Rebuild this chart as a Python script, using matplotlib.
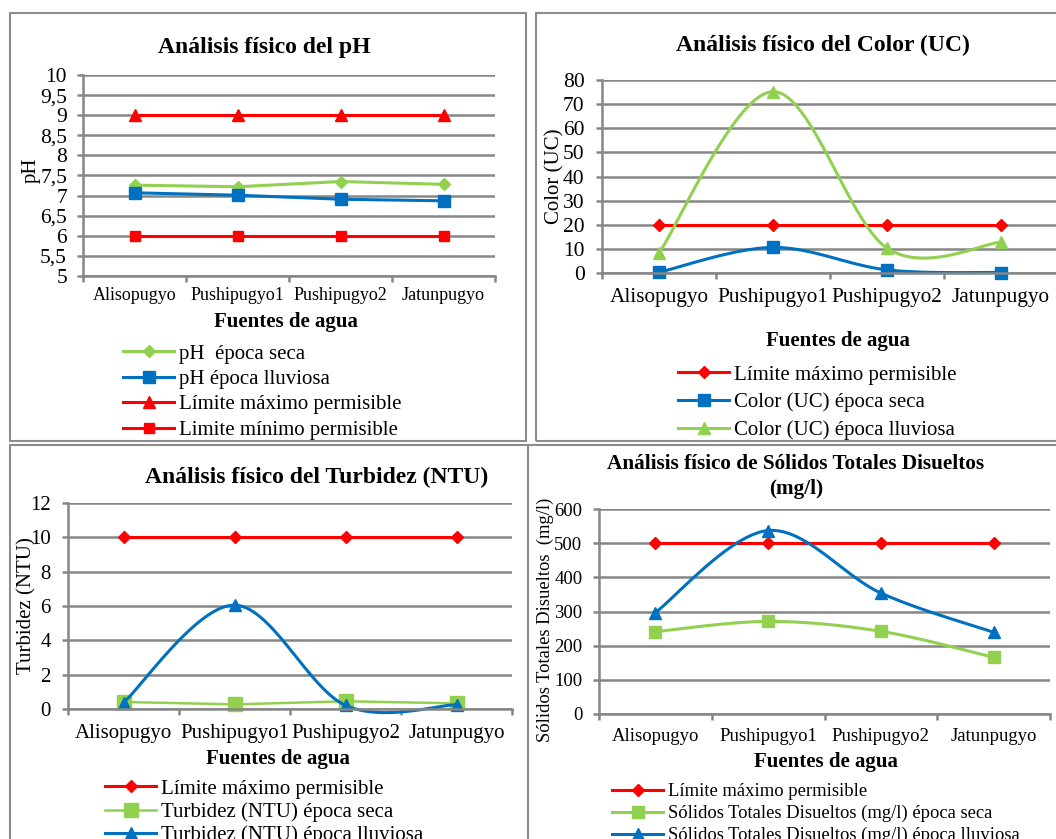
import numpy as np
import matplotlib
matplotlib.use('Agg')
import matplotlib.pyplot as plt
from matplotlib.patches import Rectangle

W, H = 1056, 839
plt.rcParams['font.family'] = ['Liberation Serif', 'DejaVu Serif']

# --- data ---
fuentes = ['Alisopugyo', 'Pushipugyo1', 'Pushipugyo2', 'Jatunpugyo']

ph_seca = [7.26, 7.22, 7.35, 7.28]
ph_lluviosa = [7.07, 7.01, 6.91, 6.87]
ph_max = [9, 9, 9, 9]
ph_min = [6, 6, 6, 6]

color_max = [20, 20, 20, 20]
color_seca = [0.3, 10.6, 1.3, 0.2]
color_lluviosa = [8.3, 75.2, 10.3, 12.8]

turb_max = [10, 10, 10, 10]
turb_seca = [0.41, 0.27, 0.45, 0.33]
turb_lluviosa = [0.37, 6.05, 0.21, 0.25]

std_max = [500, 500, 500, 500]
std_seca = [241, 271, 242, 166]
std_lluviosa = [297, 537, 354, 239]

RED = '#FF0000'
GREEN = '#92D050'
BLUE = '#0070C0'
GRID = '#868686'
N = 30

fig = plt.figure(figsize=(W / 100, H / 100), dpi=100)


def fx(x):
    return x / W


def fy(y):
    return 1 - y / H


def px_axes(x0, y0, x1, y1):
    return fig.add_axes([fx(x0), fy(y1), (x1 - x0) / W, (y1 - y0) / H])


def smooth(vals, n=N):
    # Excel-like smoothed line (Catmull-Rom bezier between the points)
    y = np.asarray(vals, float)
    x = np.arange(len(y), dtype=float)
    xs, ys = [x[0]], [y[0]]
    t = np.linspace(0, 1, n + 1)[1:]
    for i in range(len(y) - 1):
        a = max(i - 1, 0)
        b = min(i + 2, len(y) - 1)
        c1x = x[i] + (x[i + 1] - x[a]) / 6
        c1y = y[i] + (y[i + 1] - y[a]) / 6
        c2x = x[i + 1] - (x[b] - x[i]) / 6
        c2y = y[i + 1] - (y[b] - y[i]) / 6
        bx = (1 - t) ** 3 * x[i] + 3 * (1 - t) ** 2 * t * c1x + 3 * (1 - t) * t ** 2 * c2x + t ** 3 * x[i + 1]
        by = (1 - t) ** 3 * y[i] + 3 * (1 - t) ** 2 * t * c1y + 3 * (1 - t) * t ** 2 * c2y + t ** 3 * y[i + 1]
        xs.extend(bx)
        ys.extend(by)
    return np.array(xs), np.array(ys)


def line(ax, vals, color, marker, ms, label, lw=2.2, smooth_it=False):
    if smooth_it:
        xs, ys = smooth(vals)
        ax.plot(xs, ys, color=color, lw=lw, marker=marker, ms=ms, mec=color, mfc=color,
                markevery=list(range(0, len(xs), N)), label=label, clip_on=False)
    else:
        ax.plot(range(len(vals)), vals, color=color, lw=lw, marker=marker, ms=ms,
                mec=color, mfc=color, label=label, clip_on=False)


def style(ax, ymin, ymax, step, fs_y, fs_x, xpad, ypad, comma=False):
    ax.set_xlim(-0.5, 3.5)
    ax.set_ylim(ymin, ymax)
    ticks = np.arange(ymin, ymax + step / 2, step)
    ax.set_yticks(ticks)
    if comma:
        ax.set_yticklabels([('%g' % v).replace('.', ',') for v in ticks])
    ax.yaxis.grid(True, color=GRID, lw=1.8)
    ax.set_axisbelow(True)
    for s in ['top', 'right']:
        ax.spines[s].set_visible(False)
    for s in ['left', 'bottom']:
        ax.spines[s].set_color(GRID)
        ax.spines[s].set_linewidth(1.8)
    ax.set_xticks(range(4))
    ax.set_xticklabels(fuentes)
    ax.set_xticks(np.arange(-0.5, 4, 1), minor=True)
    ax.tick_params(axis='x', which='major', length=0, pad=xpad, labelsize=fs_x)
    ax.tick_params(axis='x', which='minor', length=4, width=1.8, color=GRID)
    ax.tick_params(axis='y', length=4, width=1.8, color=GRID, pad=ypad, labelsize=fs_y)
    ax.patch.set_alpha(0)


def legend(ax, x, y, fs, spacing, hl):
    ax.legend(loc='upper left', bbox_to_anchor=(fx(x), fy(y)), bbox_transform=fig.transFigure,
              frameon=False, fontsize=fs, borderpad=0, borderaxespad=0,
              handlelength=hl, handletextpad=0.25, labelspacing=spacing)


# panel borders
for (x0, y0, x1, y1) in [(10, 13, 526, 441), (536, 13, 1070, 441),
                         (10, 445, 528, 850), (528, 445, 1070, 850)]:
    fig.add_artist(Rectangle((fx(x0), fy(y1)), (x1 - x0) / W, (y1 - y0) / H,
                             transform=fig.transFigure, fill=False, ec='#8C8C8C', lw=1.5))

# --- pH ---
ax1 = px_axes(83, 75, 495, 276)
line(ax1, ph_seca, GREEN, 'D', 6, 'pH  época seca')
line(ax1, ph_lluviosa, BLUE, 's', 8.5, 'pH época lluviosa')
line(ax1, ph_max, RED, '^', 8.5, 'Límite máximo permisible')
line(ax1, ph_min, RED, 's', 7, 'Limite mínimo permisible')
style(ax1, 5, 10, 0.5, 15.5, 13, 8, 7.5, comma=True)
fig.text(fx(264), fy(48), 'Análisis físico del pH', ha='center', va='center',
         fontsize=17, fontweight='bold')
fig.text(fx(286), fy(322), 'Fuentes de agua', ha='center', va='center',
         fontsize=15, fontweight='bold')
fig.text(fx(31), fy(170), 'pH', ha='center', va='center', rotation=90, fontsize=15)
legend(ax1, 123, 344, 15, 0.28, 2.45)

# --- Color ---
ax2 = px_axes(602, 80, 1058, 273)
line(ax2, color_max, RED, 'D', 6, 'Límite máximo permisible')
line(ax2, color_seca, BLUE, 's', 8.5, 'Color (UC) época seca', smooth_it=True)
line(ax2, color_lluviosa, GREEN, '^', 8.5, 'Color (UC) época lluviosa', smooth_it=True)
style(ax2, 0, 80, 10, 15.5, 15.3, 11, 8.5)
fig.text(fx(823), fy(45), 'Análisis físico del Color (UC)', ha='center', va='center',
         fontsize=17, fontweight='bold')
fig.text(fx(838), fy(341), 'Fuentes de agua', ha='center', va='center',
         fontsize=15, fontweight='bold')
fig.text(fx(555), fy(176), 'Color (UC)', ha='center', va='center', rotation=90, fontsize=15)
legend(ax2, 678, 365, 15, 0.39, 2.45)

# --- Turbidez ---
ax3 = px_axes(68, 503, 512, 709)
line(ax3, turb_max, RED, 'D', 6, 'Límite máximo permisible')
line(ax3, turb_seca, GREEN, 's', 10, 'Turbidez (NTU) época seca', lw=1.8)
line(ax3, turb_lluviosa, BLUE, '^', 8.5, 'Turbidez (NTU) época lluviosa', smooth_it=True)
style(ax3, 0, 12, 2, 15, 15, 11, 8.5)
fig.text(fx(317), fy(477), 'Análisis físico del Turbidez (NTU)', ha='center', va='center',
         fontsize=17, fontweight='bold')
fig.text(fx(278), fy(759), 'Fuentes de agua', ha='center', va='center',
         fontsize=15, fontweight='bold')
fig.text(fx(27), fy(606), 'Turbidez (NTU)', ha='center', va='center', rotation=90, fontsize=15)
legend(ax3, 105, 779, 15, 0.17, 2.45)

# --- Solidos totales disueltos ---
ax4 = px_axes(599, 509, 1050, 714)
line(ax4, std_max, RED, 'D', 6, 'Límite máximo permisible')
line(ax4, std_seca, GREEN, 's', 8.5, 'Sólidos Totales Disueltos (mg/l) época seca', smooth_it=True)
line(ax4, std_lluviosa, BLUE, '^', 8.5, 'Sólidos Totales Disueltos (mg/l) época lluviosa',
     smooth_it=True)
style(ax4, 0, 600, 100, 13.5, 13.5, 10, 8)
fig.text(fx(796), fy(464), 'Análisis físico de Sólidos Totales Disueltos', ha='center',
         va='center', fontsize=15.3, fontweight='bold')
fig.text(fx(796), fy(489), '(mg/l)', ha='center', va='center', fontsize=15.3, fontweight='bold')
fig.text(fx(826), fy(762), 'Fuentes de agua', ha='center', va='center',
         fontsize=15, fontweight='bold')
fig.text(fx(545), fy(620), 'Sólidos Totales Disueltos  (mg/l)', ha='center', va='center',
         rotation=90, fontsize=13.4)
legend(ax4, 612, 783, 13.4, 0.26, 2.75)

fig.savefig('out.png', dpi=100)
